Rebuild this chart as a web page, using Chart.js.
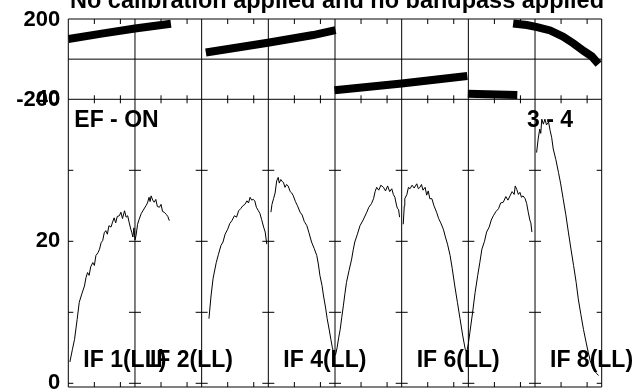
<!DOCTYPE html>
<html>
<head>
<meta charset="utf-8">
<script src="https://cdn.jsdelivr.net/npm/chart.js@4/dist/chart.umd.min.js"></script>
<style>
  body { margin: 0; background: #fff; }
  canvas { display: block; }
</style>
</head>
<body>
<canvas id="possm" width="641" height="392"></canvas>
<script>
const title = 'No calibration applied and no bandpass applied';
const baselineLabel = 'EF - ON';
const sourceLabel = '3 - 4';
const ifNames = ['IF 1(LL)', 'IF 2(LL)', 'IF 4(LL)', 'IF 6(LL)', 'IF 8(LL)'];
const ifLabelSlots = [0, 1, 3, 5, 7];

const nIF = 8;
const chansPerIF = 128;
const chanTicks = [50, 100];
const ampTicks = [0, 20, 40];
const ampMinorTicks = [0, 10, 20, 30];
const phaseTicks = [-200, 200];

// amplitude segments, [channel, amplitude]
const ampSeg1 = [[3,3.0],[8,4.8],[12,6.2],[17,9.0],[21,11.4],[26,12.6],[31,13.7],[34,14.9],[37,15.6],[40,15.2],
  [43,16.4],[47,17.0],[50,16.6],[53,18.0],[57,18.4],[60,18.9],[63,19.8],[66,20.1],[69,21.2],[72,21.5],[75,21.0],
  [78,22.2],[82,22.0],[85,22.7],[88,23.3],[91,22.6],[94,23.5],[98,23.6],[101,24.1],[104,23.2],[108,24.3],[111,23.4],
  [114,23.6],[117,22.6],[120,21.7],[122,21.2],[124,20.6],[126,21.9],[128,20.2],[130,20.8],[133,22.4],[136,23.1],
  [140,23.9],[144,24.4],[149,25.0],[152,25.4],[155,26.2],[157,25.6],[159,26.4],[162,25.8],[165,25.5],[168,25.9],
  [171,24.9],[175,24.8],[178,25.2],[181,24.2],[184,24.1],[188,23.8],[191,23.5],[194,22.9]];
const ampSeg2 = [[270,9.1],[274,12.3],[278,14.8],[284,17.0],[288,18.1],[293,19.4],[297,19.9],[301,21.0],[306,21.7],
  [310,22.5],[314,22.9],[319,23.6],[323,23.4],[327,24.3],[331,24.6],[335,25.0],[339,25.2],[343,25.7],[346,25.4],
  [349,26.2],[352,25.8],[355,25.9],[358,25.7],[361,24.8],[365,24.3],[368,23.9],[371,23.1],[375,22.0],[378,21.3],[381,19.6]];
const ampSeg3 = [[389,24.1],[391,25.2],[394,26.0],[397,26.8],[400,28.5],[403,29.0],[405,28.2],[408,28.7],[411,28.4],
  [413,28.3],[416,27.6],[419,28.0],[422,27.8],[426,27.0],[429,26.8],[432,26.4],[436,25.6],[440,25.0],[445,24.1],
  [449,23.7],[453,22.8],[458,22.2],[462,21.2],[467,19.9],[472,19.0],[477,18.0],[480,16.8],[483,15.2],[487,13.8],
  [490,12.3],[494,10.6],[497,9.1],[501,7.5],[504,6.2],[507,5.0],[510,4.2],[513,4.0],[516,5.0],[519,6.4],[522,7.6],
  [525,9.3],[528,10.9],[531,12.6],[534,14.2],[539,15.9],[544,17.5],[547,18.8],[550,19.9],[555,21.0],[560,22.2],
  [566,23.0],[573,24.1],[577,24.8],[582,25.3],[586,26.0],[589,27.0],[592,27.6],[596,27.2],[600,27.9],[605,27.6],
  [609,27.1],[613,27.8],[617,27.0],[621,27.4],[624,26.6],[627,26.2],[630,25.1],[632,24.6],[634,24.5],[636,23.4]];
const ampSeg4 = [[643,22.4],[645,25.0],[646,26.0],[650,26.6],[653,27.6],[656,27.4],[660,27.9],[664,27.5],[669,28.1],
  [672,27.4],[675,27.6],[678,28.0],[681,27.2],[685,27.6],[688,26.5],[691,27.1],[694,26.0],[698,26.0],[702,25.0],
  [707,24.1],[711,23.2],[715,22.6],[720,21.7],[724,20.6],[728,19.6],[733,18.0],[737,16.2],[742,13.7],[747,11.4],
  [752,9.1],[757,6.8],[762,4.8],[765,4.4],[768,5.6],[771,7.2],[776,9.9],[781,12.8],[786,15.2],[790,17.0],[794,18.9],
  [799,20.0],[803,21.3],[808,22.0],[812,23.0],[816,23.6],[821,24.2],[826,24.6],[830,25.4],[835,25.5],[840,26.3],
  [844,25.8],[848,26.4],[852,27.0],[856,26.6],[858,27.8],[861,27.3],[864,26.6],[867,26.9],[870,26.2],[873,26.4],
  [877,26.0],[880,25.3],[883,24.1],[886,23.0],[888,22.6],[890,21.3]];
const ampSeg5 = [[899,32.5],[902,34.4],[905,35.8],[907,35.2],[909,37.2],[912,36.5],[915,37.2],[918,36.4],[922,36.8],
  [925,35.6],[928,34.6],[931,33.0],[936,31.5],[941,29.7],[945,28.2],[950,26.0],[955,23.8],[960,21.3],[965,18.9],
  [970,16.6],[975,14.2],[979,11.9],[984,9.7],[989,7.6],[994,5.8],[998,4.4],[1002,3.2],[1005,2.5],[1010,1.8],
  [1014,1.4],[1018,1.1]];

// phase segments, [channel, degrees]
const phSeg1 = [[0,100],[64,127],[128,153],[197,176]];
const phSeg2 = [[264,33],[383,82],[470,120],[513,145]];
const phSeg3 = [[511,-155],[640,-121],[766,-84]];
const phSeg4 = [[767,-172],[862,-179]];
const phSeg5 = [[854,178],[880,170],[900,160],[925,143],[950,112],[970,78],[990,40],[1005,14],[1018,-25]];

const ampSegments = [ampSeg1, ampSeg2, ampSeg3, ampSeg4, ampSeg5];
const phaseSegments = [phSeg1, phSeg2, phSeg3, phSeg4, phSeg5];

const toXY = seg => seg.map(([x, y]) => ({x, y}));
const tickFont = {family: '"Liberation Sans", Arial, sans-serif', size: 22, weight: 'bold'};

const datasets = [];
phaseSegments.forEach(seg => datasets.push({
  data: toXY(seg), yAxisID: 'yPh', borderColor: '#000', borderWidth: 8,
  borderCapStyle: 'butt', pointRadius: 0
}));
ampSegments.forEach(seg => datasets.push({
  data: toXY(seg), yAxisID: 'yAmp', borderColor: '#000', borderWidth: 1, pointRadius: 0
}));

// stop Chart.js from reserving room for the end labels
function fixAxis(s) {
  s.width = 68.3;
  s.paddingTop = 0;
  s.paddingBottom = 0;
}

const possmFrame = {
  id: 'possmFrame',
  beforeDatasetsDraw(chart) {
    const {ctx, chartArea: a, scales: {x, yAmp, yPh}} = chart;
    const mid = yAmp.top;
    ctx.save();
    ctx.strokeStyle = '#000';
    ctx.lineWidth = 1;
    ctx.beginPath();
    ctx.rect(a.left, a.top, a.width, a.height);
    ctx.moveTo(a.left, mid); ctx.lineTo(a.right, mid);
    const y0 = yPh.getPixelForValue(0);
    ctx.moveTo(a.left, y0); ctx.lineTo(a.right, y0);
    for (let k = 1; k < nIF; k++) {
      const px = x.getPixelForValue(k * chansPerIF);
      ctx.moveTo(px, a.top); ctx.lineTo(px, a.bottom);
    }
    for (let k = 0; k < nIF; k++) {
      chanTicks.forEach(c => {
        const px = x.getPixelForValue(k * chansPerIF + c);
        ctx.moveTo(px, a.top); ctx.lineTo(px, a.top + 5);
        ctx.moveTo(px, mid - 4); ctx.lineTo(px, mid + 4);
        ctx.moveTo(px, a.bottom); ctx.lineTo(px, a.bottom - 5);
      });
    }
    ampMinorTicks.forEach(v => {
      const py = yAmp.getPixelForValue(v);
      ctx.moveTo(a.left, py); ctx.lineTo(a.left + 5, py);
      ctx.moveTo(a.right, py); ctx.lineTo(a.right - 5, py);
      for (let k = 1; k < nIF; k++) {
        const px = x.getPixelForValue(k * chansPerIF);
        ctx.moveTo(px - 6, py); ctx.lineTo(px + 6, py);
      }
    });
    ctx.stroke();
    ctx.restore();
  },
  afterDraw(chart) {
    const {ctx, chartArea: a, scales: {x, yAmp}} = chart;
    ctx.save();
    ctx.fillStyle = '#000';
    ctx.textBaseline = 'alphabetic';
    ctx.font = 'bold 23.5px "Liberation Sans", Arial, sans-serif';
    ctx.textAlign = 'center';
    ctx.fillText(title, (a.left + a.right) / 2 + 2, 7.5);
    ctx.font = 'bold 23px "Liberation Sans", Arial, sans-serif';
    ctx.textAlign = 'left';
    ctx.fillText(baselineLabel, a.left + 6, yAmp.top + 28);
    ctx.fillText(sourceLabel, x.getPixelForValue((nIF - 1) * chansPerIF) - 8, yAmp.top + 28);
    ifNames.forEach((name, i) => {
      ctx.fillText(name, x.getPixelForValue(ifLabelSlots[i] * chansPerIF) + 15, a.bottom - 20);
    });
    ctx.restore();
  }
};

new Chart(document.getElementById('possm'), {
  type: 'line',
  data: {datasets},
  options: {
    responsive: false,
    animation: false,
    layout: {padding: {top: 19, right: 39.3, bottom: 5, left: 0}},
    plugins: {legend: {display: false}, tooltip: {enabled: false}},
    scales: {
      x: {type: 'linear', min: 0, max: nIF * chansPerIF, display: false},
      yAmp: {
        type: 'linear', position: 'left', stack: 'panels', stackWeight: 287.7,
        min: -0.52, max: 40,
        grid: {display: false, drawTicks: false}, border: {display: false},
        afterBuildTicks: s => { s.ticks = ampTicks.map(v => ({value: v})); },
        afterFit: fixAxis,
        ticks: {color: '#000', font: tickFont, padding: 8, callback: v => String(v)}
      },
      yPh: {
        type: 'linear', position: 'left', stack: 'panels', stackWeight: 80.3,
        min: -200, max: 200,
        grid: {display: false, drawTicks: false}, border: {display: false},
        afterBuildTicks: s => { s.ticks = phaseTicks.map(v => ({value: v})); },
        afterFit: fixAxis,
        ticks: {color: '#000', font: tickFont, padding: 8, labelOffset: 1, callback: v => String(v)}
      }
    }
  },
  plugins: [possmFrame]
});
</script>
</body>
</html>
